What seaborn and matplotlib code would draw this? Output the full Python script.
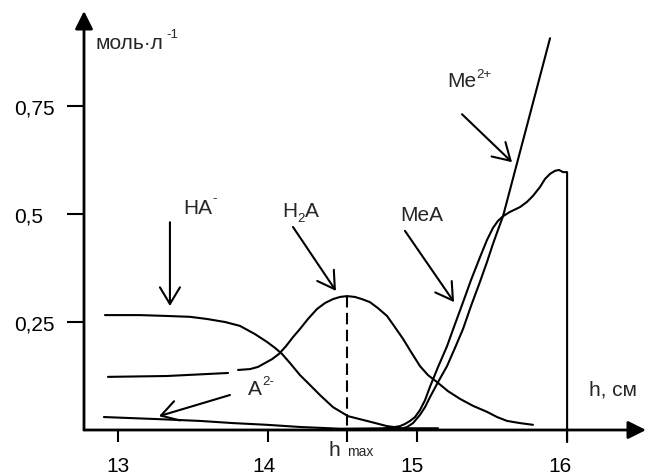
import numpy as np
import pandas as pd
import matplotlib
matplotlib.use("Agg")
import matplotlib.pyplot as plt
import matplotlib.transforms as mtrans
import seaborn as sns

# ---------------- data ----------------
ha_h = [12.913, 13.147, 13.327, 13.481, 13.595, 13.715, 13.815, 13.915, 13.995, 14.049,
        14.096, 14.149, 14.216, 14.283, 14.349, 14.436, 14.537, 14.663, 14.797, 14.884]
ha_c = [0.266, 0.266, 0.264, 0.262, 0.257, 0.250, 0.241, 0.222, 0.204, 0.190,
        0.176, 0.155, 0.127, 0.104, 0.081, 0.053, 0.032, 0.021, 0.009, 0.005]

h2a_h_low = [12.933, 13.327, 13.735]
h2a_c_low = [0.123, 0.125, 0.132]
h2a_h = [13.802, 13.882, 13.935, 13.982, 14.029, 14.075, 14.122, 14.169, 14.216, 14.269,
         14.329, 14.383, 14.436, 14.483, 14.530, 14.583, 14.630, 14.683, 14.737, 14.797,
         14.850, 14.904, 14.957, 15.017, 15.071, 15.131, 15.204, 15.285, 15.371, 15.465,
         15.532, 15.599, 15.685, 15.772]
h2a_c = [0.139, 0.141, 0.146, 0.155, 0.164, 0.176, 0.194, 0.215, 0.234, 0.257,
         0.280, 0.294, 0.303, 0.308, 0.310, 0.308, 0.303, 0.296, 0.282, 0.264,
         0.238, 0.211, 0.181, 0.148, 0.127, 0.111, 0.090, 0.072, 0.056, 0.042,
         0.030, 0.021, 0.016, 0.012]

a2_h = [12.906, 13.281, 13.548, 13.768, 13.995, 14.216, 14.483, 14.797, 15.138]
a2_c = [0.030, 0.025, 0.021, 0.016, 0.012, 0.007, 0.003, 0.004, 0.004]

mea_h = [14.750, 14.817, 14.884, 14.917, 14.951, 14.984, 15.017, 15.051, 15.084, 15.138,
         15.198, 15.251, 15.305, 15.358, 15.418, 15.465, 15.505, 15.538, 15.572, 15.619,
         15.685, 15.732, 15.772, 15.819, 15.852, 15.886, 15.919, 15.946, 15.973, 16.0, 16.0]
mea_c = [0.002, 0.005, 0.009, 0.014, 0.021, 0.030, 0.046, 0.069, 0.100, 0.146,
         0.194, 0.245, 0.296, 0.347, 0.400, 0.440, 0.468, 0.484, 0.495, 0.505,
         0.516, 0.528, 0.542, 0.5625, 0.581, 0.593, 0.600, 0.602, 0.597, 0.597, -0.028]

me_h = [14.884, 14.931, 14.971, 15.017, 15.051, 15.084, 15.138, 15.198, 15.251, 15.305,
        15.358, 15.418, 15.465, 15.505, 15.538, 15.572, 15.886]
me_c = [0.002, 0.007, 0.016, 0.035, 0.053, 0.076, 0.111, 0.148, 0.190, 0.234,
        0.287, 0.343, 0.389, 0.431, 0.463, 0.495, 0.907]

h_max = 14.53
h_max_c = [0.310, -0.028]

x_ticks = [13, 14, 15, 16]
x_tick_labels = ["13", "14", "15", "16"]
y_ticks = [0.25, 0.5, 0.75]
y_tick_labels = ["0,25", "0,5", "0,75"]

# ---------------- style ----------------
sns.set_style("white")
plt.rcParams["font.family"] = ["Liberation Sans", "DejaVu Sans"]
FS = 15
SFS = 9.5

fig = plt.figure(figsize=(6.47, 4.77), dpi=100)
ax = fig.add_axes([84 / 647, 46 / 477, (646 - 84) / 647, (431 - 12) / 477])

frames = []
for name, hs, cs in [("HA", ha_h, ha_c), ("H2A_low", h2a_h_low, h2a_c_low),
                     ("H2A", h2a_h, h2a_c), ("A2", a2_h, a2_c),
                     ("MeA", mea_h, mea_c), ("Me2", me_h, me_c)]:
    frames.append(pd.DataFrame({"h": hs, "c": cs, "series": name}))
df = pd.concat(frames, ignore_index=True)

sns.lineplot(data=df, x="h", y="c", units="series", estimator=None, sort=False,
             color="black", lw=1.5, ax=ax)
ax.plot([h_max, h_max], h_max_c, color="black", lw=1.5, linestyle=(0, (5.5, 2.6)))
for ln in ax.lines:
    ln.set_clip_on(False)
    ln.set_solid_joinstyle("round")
    ln.set_solid_capstyle("round")

ax.set_xlim(12.773, 16.527)
ax.set_ylim(0, 0.970)
ax.set_xlabel("")
ax.set_ylabel("")
for s in ax.spines.values():
    s.set_visible(False)

# axes with arrowheads
arrow_axis = dict(arrowstyle="-|>,head_length=0.6,head_width=0.3", lw=2,
                  color="black", mutation_scale=18, shrinkA=0, shrinkB=0)
ax.annotate("", xy=(1, 0), xytext=(0, 0), xycoords="axes fraction",
            textcoords="axes fraction", arrowprops=arrow_axis, annotation_clip=False)
ax.annotate("", xy=(0, 1), xytext=(0, 0), xycoords="axes fraction",
            textcoords="axes fraction", arrowprops=arrow_axis, annotation_clip=False)

ax.set_xticks(x_ticks)
ax.set_xticklabels(x_tick_labels, fontsize=FS)
ax.set_yticks(y_ticks)
ax.set_yticklabels(y_tick_labels, fontsize=FS)
ax.tick_params(axis="x", direction="out", length=8.6, width=1.5, pad=10,
               bottom=True, colors="black")
ax.tick_params(axis="y", direction="out", length=12, width=1.5, pad=38,
               left=True, colors="black")
for lab in ax.get_yticklabels():
    lab.set_horizontalalignment("left")
for lab, dx in zip(ax.get_xticklabels(), [0, -4, -5, -7]):
    lab.set_transform(lab.get_transform() +
                      mtrans.ScaledTranslation(dx / 100, 0, fig.dpi_scale_trans))

# labels
ax.text(12.853, 0.898, "моль·л", fontsize=FS, va="center", ha="left")
ax.text(13.320, 0.917, "-1", fontsize=SFS, va="center", ha="left")
ax.text(16.146, 0.095, "h, см", fontsize=FS, va="center", ha="left")
ax.text(14.409, -0.058, "h", fontsize=FS, va="baseline", ha="left", clip_on=False)
ax.text(14.530, -0.058, "max", fontsize=10, va="baseline", ha="left", clip_on=False)

ax.text(13.434, 0.516, "HA", fontsize=FS, va="center", ha="left")
ax.text(13.632, 0.537, "-", fontsize=SFS, va="center", ha="left")
ax.text(14.096, 0.507, "H", fontsize=FS, va="center", ha="left")
ax.text(14.198, 0.491, "2", fontsize=SFS, va="center", ha="left")
ax.text(14.252, 0.507, "A", fontsize=FS, va="center", ha="left")
ax.text(14.884, 0.500, "MeA", fontsize=FS, va="center", ha="left")
ax.text(15.198, 0.808, "Me", fontsize=FS, va="center", ha="left")
ax.text(15.392, 0.824, "2+", fontsize=SFS, va="center", ha="left")
ax.text(13.868, 0.095, "A", fontsize=FS, va="center", ha="left")
ax.text(13.962, 0.113, "2-", fontsize=SFS, va="center", ha="left")

arrow_lab = dict(arrowstyle="->,head_length=0.6,head_width=0.36", lw=1.5,
                 color="black", mutation_scale=20, shrinkA=0, shrinkB=0)
for tail, tip in [((13.347, 0.481), (13.347, 0.287)),
                  ((14.169, 0.470), (14.456, 0.322)),
                  ((14.917, 0.461), (15.245, 0.296)),
                  ((15.298, 0.731), (15.632, 0.620)),
                  ((13.748, 0.081), (13.274, 0.032))]:
    ax.annotate("", xy=tip, xytext=tail, arrowprops=arrow_lab)

fig.savefig("out.png", dpi=100)
